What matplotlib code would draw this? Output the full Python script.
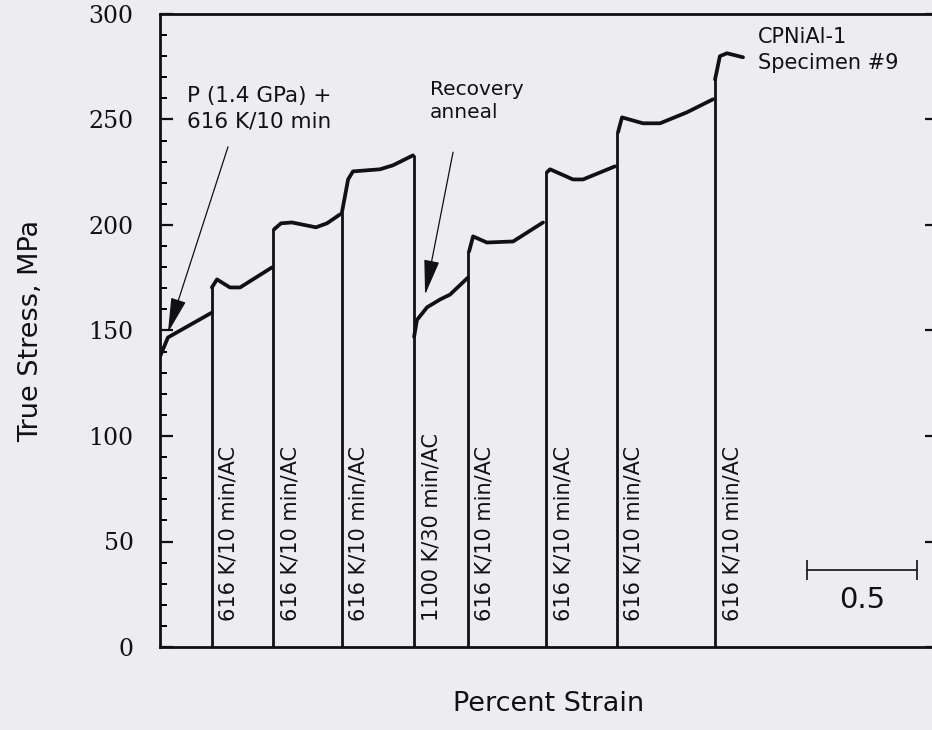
import numpy as np
import matplotlib
matplotlib.use('Agg')
import matplotlib.pyplot as plt

# stress-strain record, one list per loading step (strain in %, stress in MPa)
strain_1 = [0.0, 0.036, 0.236]
stress_1 = [137.6, 146.7, 158.5]
strain_2 = [0.236, 0.259, 0.318, 0.364, 0.509]
stress_2 = [170.4, 174.2, 170.4, 170.4, 179.9]
strain_3 = [0.518, 0.55, 0.6, 0.709, 0.759, 0.818]
stress_3 = [197.9, 200.8, 201.2, 198.9, 200.8, 205.0]
strain_4 = [0.827, 0.855, 0.877, 1.0, 1.059, 1.15]
stress_4 = [206.0, 221.6, 225.4, 226.4, 228.3, 233.0]
strain_5 = [1.155, 1.168, 1.214, 1.273, 1.318, 1.4]
stress_5 = [147.0, 155.0, 161.0, 164.7, 167.0, 175.1]
strain_6 = [1.405, 1.423, 1.486, 1.605, 1.741]
stress_6 = [187.5, 194.6, 191.7, 192.2, 201.2]
strain_7 = [1.759, 1.773, 1.877, 1.923, 2.068]
stress_7 = [225.0, 226.4, 221.6, 221.6, 227.8]
strain_8 = [2.082, 2.1, 2.195, 2.273, 2.395, 2.514]
stress_8 = [244.0, 251.0, 248.2, 248.2, 253.4, 259.6]
strain_9 = [2.523, 2.545, 2.577, 2.65]
stress_9 = [269.0, 280.0, 281.4, 279.5]

segments = [(strain_1, stress_1), (strain_2, stress_2), (strain_3, stress_3),
            (strain_4, stress_4), (strain_5, stress_5), (strain_6, stress_6),
            (strain_7, stress_7), (strain_8, stress_8), (strain_9, stress_9)]

# unload / reload lines and the heat treatment done there
unload_strain = [0.236, 0.514, 0.827, 1.155, 1.4, 1.755, 2.077, 2.523]
unload_top = [170.4, 197.9, 206.0, 233.0, 187.5, 225.0, 244.0, 269.0]
treatments = ['616 K/10 min/AC', '616 K/10 min/AC', '616 K/10 min/AC',
              '1100 K/30 min/AC', '616 K/10 min/AC', '616 K/10 min/AC',
              '616 K/10 min/AC', '616 K/10 min/AC']

bg = '#ededf1'
ink = '#111111'
fig = plt.figure(figsize=(9.32, 7.3), dpi=100, facecolor=bg)
ax = fig.add_axes([160 / 932, 1 - 647 / 730, 777 / 932, 633 / 730])
ax.set_facecolor(bg)

for xs, ys in segments:
    ax.plot(xs, ys, color=ink, lw=2.7, solid_joinstyle='round',
            solid_capstyle='round')
ax.vlines(unload_strain, 0, unload_top, color=ink, lw=2.0)

for xv, lab in zip(unload_strain, treatments):
    ax.text(xv + 0.077, 12.5, lab, rotation=90, ha='center', va='bottom',
            fontsize=15, color=ink)

# annotations
arrow = dict(arrowstyle='-|>,head_length=1.0,head_width=0.22',
             color=ink, lw=0.9, mutation_scale=22, shrinkA=0, shrinkB=0)
ax.text(0.123, 261, 'P (1.4 GPa) +', fontsize=15.5, va='center', color=ink)
ax.text(0.123, 249, '616 K/10 min', fontsize=15.5, va='center', color=ink)
ax.annotate('', xy=(0.036, 149), xytext=(0.309, 237), arrowprops=arrow)
ax.text(1.227, 264.4, 'Recovery', fontsize=14.5, va='center', color=ink)
ax.text(1.227, 253.4, 'anneal', fontsize=14.5, va='center', color=ink)
ax.annotate('', xy=(1.205, 167), xytext=(1.332, 234.5), arrowprops=arrow)
ax.text(2.718, 289, 'CPNiAl-1', fontsize=15, va='center', color=ink)
ax.text(2.718, 276.7, 'Specimen #9', fontsize=15, va='center', color=ink)

# strain scale bar
bar_x = [2.941, 3.441]
bar_y = 36.5
ax.plot(bar_x, [bar_y, bar_y], color='#222222', lw=1.3)
ax.vlines(bar_x, bar_y - 4.7, bar_y + 4.7, color='#222222', lw=1.3)
ax.text(np.mean(bar_x), 22.3, '0.5', fontsize=21, ha='center', va='center',
        color=ink)

ax.set_xlim(0, 777 / 220)
ax.set_ylim(0, 300)
ax.set_xticks([])
ax.set_yticks(np.arange(0, 301, 50))
ax.set_yticks(np.arange(0, 301, 10), minor=True)
ax.tick_params(axis='y', which='major', direction='in', length=9, width=1.6,
               right=True, pad=19, labelsize=17, colors=ink)
ax.tick_params(axis='y', which='minor', direction='in', length=5, width=1.4,
               right=False)
for lab in ax.get_yticklabels():
    lab.set_family('DejaVu Serif')
for side in ['left', 'bottom', 'top', 'right']:
    ax.spines[side].set_linewidth(2.0)
    ax.spines[side].set_color(ink)

ax.set_ylabel('True Stress, MPa', fontsize=19.5, labelpad=32, color=ink)
ax.set_xlabel('Percent Strain', fontsize=19.5, labelpad=32, color=ink)

fig.savefig('out.png', dpi=100, facecolor=bg)
